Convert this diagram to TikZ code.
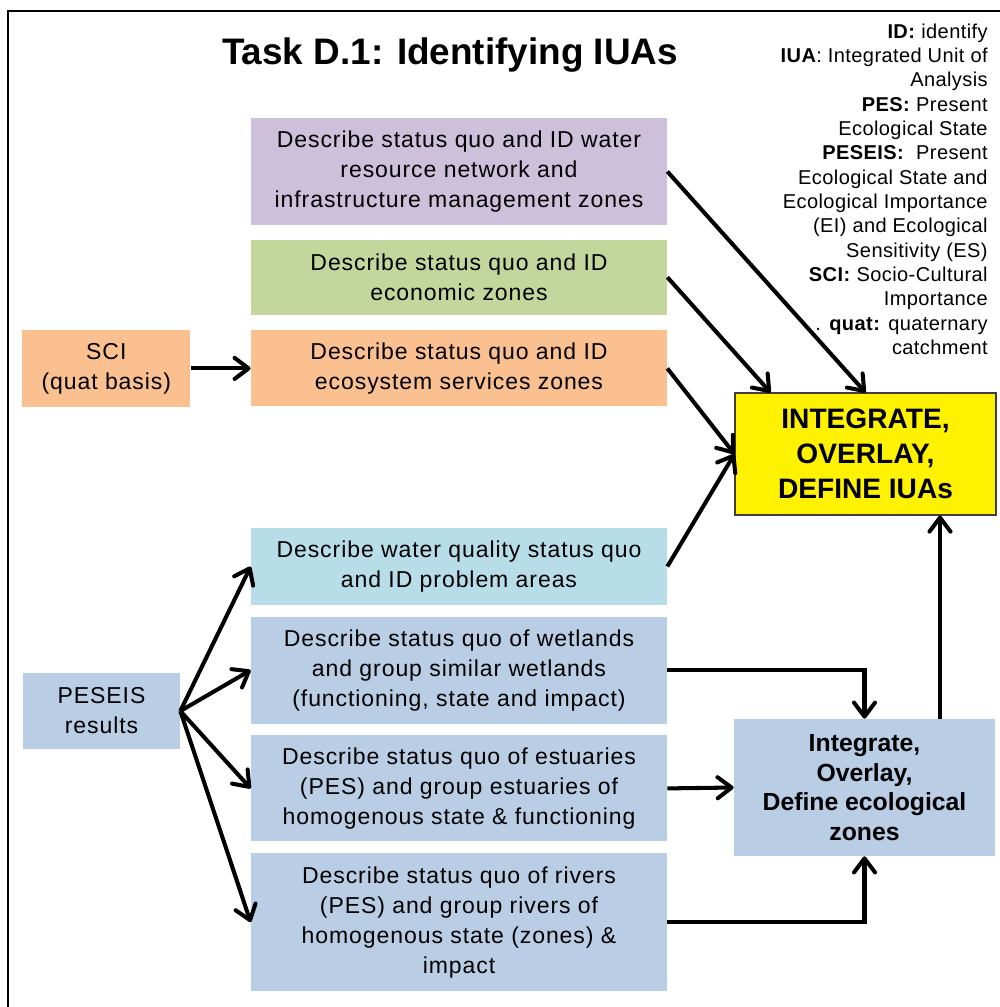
\documentclass[tikz,border=0pt]{standalone}
\usepackage{fontspec}
\setmainfont{Liberation Sans}
\newfontfamily\bodyfont[LetterSpace=4]{Liberation Sans}
\newfontfamily\keyfont[LetterSpace=2]{Liberation Sans}
\usetikzlibrary{positioning, arrows.meta}
\definecolor{lilac}{HTML}{CCC0DA}
\definecolor{sage}{HTML}{C3D69B}
\definecolor{peach}{HTML}{FAC090}
\definecolor{aqua}{HTML}{B7DEE8}
\definecolor{steel}{HTML}{B9CDE5}

\begin{document}
\begin{tikzpicture}[>={Straight Barb[length=8pt,width=12pt,round]},
   flow/.style={->, line width=2.3pt},
   task/.style={rectangle, inner sep=0pt, minimum width=8.32cm, align=center,
      font=\bodyfont\fontsize{13.1}{17.07}\selectfont},
   merge/.style={rectangle, minimum width=5.22cm, align=center}]
   \useasboundingbox (0,0) rectangle (20,-20.14);
   \draw[line width=1.7pt] (0.16,-20.14) -- (0.16,-0.22) -- (20,-0.22);

   \node[anchor=base, font=\bfseries\fontsize{21}{25}\selectfont] (title) at (9.0,-1.28) {Task D.1: Identifying IUAs};
   \node[anchor=north east, inner sep=0pt, align=right, font=\keyfont\fontsize{11.4}{13.83}\selectfont] (key) at (19.76,-0.47)
      {\textbf{ID:} identify\\ \textbf{IUA}: Integrated Unit of\\ Analysis\\ \textbf{PES:} Present\\ Ecological State\\
       \textbf{PESEIS:}~~Present\\ Ecological State and\\ Ecological Importance\\ (EI) and Ecological\\ Sensitivity (ES)\\
       \textbf{SCI:} Socio-Cultural\\ Importance\\ . \textbf{quat:} quaternary\\ catchment};

   % upper column
   \node[task, fill=lilac, minimum height=2.14cm] (infra) at (9.18,-3.43) {Describe status quo and ID water\\resource network and\\infrastructure management zones};
   \node[task, fill=sage, minimum height=1.5cm] (econ) [below=0.28cm of infra] {Describe status quo and ID\\economic zones};
   \node[task, fill=peach, minimum height=1.52cm] (ess) [below=0.3cm of econ] {Describe status quo and ID\\ecosystem services zones};
   \node[task, fill=peach, minimum width=3.36cm, minimum height=1.54cm] (sci) [left=1.2cm of ess] {SCI\\(quat basis)};

   % lower column
   \node[task, fill=aqua, minimum height=1.54cm] (wq) at (9.18,-11.33) {Describe water quality status quo\\and ID problem areas};
   \node[task, fill=steel, minimum height=2.14cm] (wet) [below=0.22cm of wq] {Describe status quo of wetlands\\and group similar wetlands\\(functioning, state and impact)};
   \node[task, fill=steel, minimum height=2.12cm] (est) [below=0.22cm of wet] {Describe status quo of estuaries\\(PES) and group estuaries of\\homogenous state \& functioning};
   \node[task, fill=steel, minimum height=2.76cm] (riv) [below=0.22cm of est] {Describe status quo of rivers\\(PES) and group rivers of\\homogenous state (zones) \&\\impact};
   \node[task, fill=steel, minimum width=3.14cm, minimum height=1.52cm] (peseis) at (2.03,-14.22) {PESEIS\\results};

   % merging boxes
   \node[merge, fill=yellow, draw=black!75, line width=0.6pt, minimum height=2.44cm,
      font=\bfseries\fontsize{16}{19.9}\selectfont] (iua) at (17.31,-9.08) {INTEGRATE,\\OVERLAY,\\DEFINE IUAs};
   \node[merge, fill=steel, minimum height=2.74cm,
      font=\bfseries\fontsize{14.1}{16.8}\selectfont] (ecoz) at (17.29,-15.75) {Integrate,\\Overlay,\\Define ecological\\zones};
   \coordinate (up) at ([xshift=1.51cm]ecoz.north);

   \path[flow]
    (sci) edge (ess)
    (infra.east) edge (iua.north)
    (econ.east) edge ([xshift=-1.9cm]iua.north)
    (ess.east) edge (iua.west)
    (wq.east) edge (iua.west)
    (peseis.east) edge (wq.west)
                  edge (wet.west)
                  edge (est.west)
                  edge (riv.west)
    (est.east) edge (ecoz.west)
    (up) edge (up |- iua.south);
   \draw[flow] (wet.east) -| (ecoz.north);
   \draw[flow] (riv.east) -| (ecoz.south);
\end{tikzpicture}
\end{document}
